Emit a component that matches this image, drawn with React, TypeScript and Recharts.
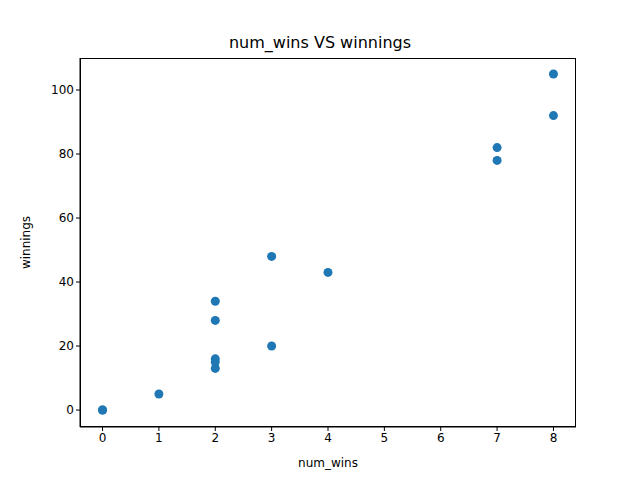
import { ScatterChart, Scatter, XAxis, YAxis, Label } from 'recharts';

const numWins = [0, 0, 1, 2, 2, 2, 2, 2, 3, 3, 4, 7, 7, 8, 8];
const winnings = [0, 0, 5, 34, 28, 16, 15, 13, 48, 20, 43, 82, 78, 105, 92];
const xTicks = [0, 1, 2, 3, 4, 5, 6, 7, 8];
const yTicks = [0, 20, 40, 60, 80, 100];

const data = numWins.map((x, i) => ({ x, y: winnings[i] }));
const font = 'DejaVu Sans';

export default function App() {
  return (
    <div style={{ position: 'absolute', left: 0, top: 0, width: 640, height: 480, background: '#fff' }}>
      <div style={{ position: 'absolute', top: 33, width: 640, textAlign: 'center', fontFamily: font, fontSize: 16 }}>
        num_wins VS winnings
      </div>
      <ScatterChart width={640} height={480} margin={{ top: 58, right: 64, bottom: 0, left: 0 }}>
        <XAxis type="number" dataKey="x" domain={[-0.4, 8.4]} ticks={xTicks} height={53}
          stroke="#000" tickSize={4} tick={{ fill: '#000', fontSize: 12, fontFamily: font }} allowDataOverflow>
          <Label value="num_wins" position="insideBottom" offset={13} style={{ fill: '#000', fontSize: 12, fontFamily: font }} />
        </XAxis>
        <YAxis type="number" dataKey="y" domain={[-5.3, 110]} ticks={yTicks} width={80}
          stroke="#000" tickSize={4} tick={{ fill: '#000', fontSize: 12, fontFamily: font }} allowDataOverflow>
          <Label value="winnings" angle={-90} position="insideLeft" offset={26} style={{ fill: '#000', fontSize: 12, fontFamily: font, textAnchor: 'middle' }} />
        </YAxis>
        <Scatter data={data} fill="#1f77b4" isAnimationActive={false}
          shape={(p: any) => <circle cx={p.cx} cy={p.cy} r={4.5} fill="#1f77b4" />} />
      </ScatterChart>
      <div style={{ position: 'absolute', left: 80, top: 58, width: 496, height: 369, boxSizing: 'border-box', border: '1px solid #000', pointerEvents: 'none' }} />
    </div>
  );
}
